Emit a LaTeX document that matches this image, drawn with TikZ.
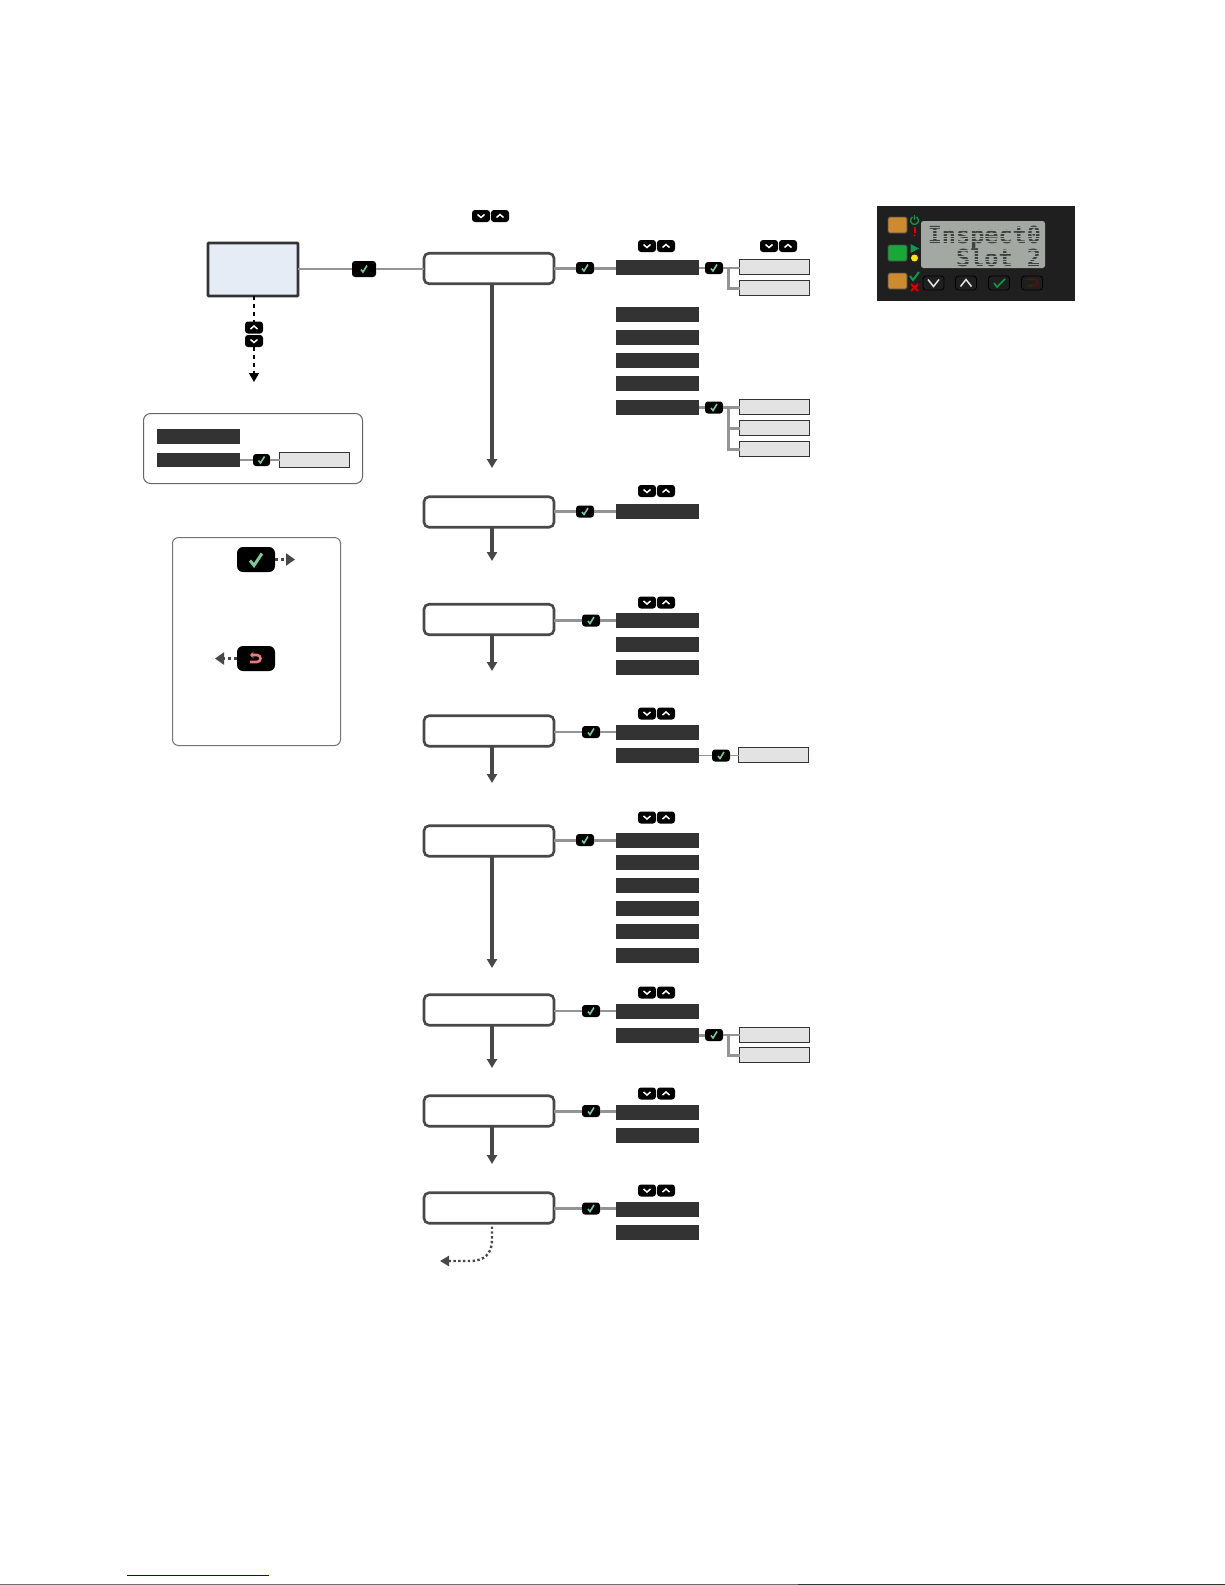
\documentclass[tikz,border=0pt]{standalone}
\usepackage{fontspec}
\setmonofont{DejaVu Sans Mono}
\usetikzlibrary{arrows.meta}
\definecolor{okgreen}{HTML}{7CC99A}
\definecolor{backred}{HTML}{E87C7C}
\definecolor{barblack}{HTML}{333333}
\definecolor{boxline}{HTML}{484848}
\definecolor{homeblue}{HTML}{E6ECF6}
\definecolor{lcdgray}{HTML}{A3A8A3}
\definecolor{lcdtext}{HTML}{3E423E}
\definecolor{panelgreen}{HTML}{0E9A4A}
\definecolor{ledorange}{HTML}{CE8A2E}
\definecolor{ledgreen}{HTML}{18A838}
\definecolor{footline}{HTML}{7A6A70}
\begin{document}
\begin{tikzpicture}[x=1pt,y=-1pt,>={Triangle[length=9pt,width=10pt]},
  badge/.style={fill=black,rounded corners=3pt,inner sep=0,outer sep=0,minimum width=18pt,minimum height=12pt},
  okbadge/.style={badge,path picture={\draw[sharp corners,shift={(path picture bounding box.center)},okgreen,line width=1.6pt] (-3,0.5) -- (-1,3) -- (3,-3.5);}},
  downbadge/.style={badge,path picture={\draw[sharp corners,shift={(path picture bounding box.center)},white,line width=1.5pt] (-3.5,-1.5) -- (0,1.5) -- (3.5,-1.5);}},
  upbadge/.style={badge,path picture={\draw[sharp corners,shift={(path picture bounding box.center)},white,line width=1.5pt] (-3.5,1.5) -- (0,-1.5) -- (3.5,1.5);}},
  menubox/.style={draw=boxline,fill=white,line width=2.6pt,rounded corners=5pt,inner sep=0,outer sep=0,minimum width=130pt,minimum height=30.5pt},
  darkbar/.style={fill=barblack,inner sep=0,outer sep=0,minimum width=83pt,minimum height=15pt},
  valbox/.style={draw=barblack,fill=black!11,line width=0.8pt,inner sep=0,outer sep=0,minimum width=70pt,minimum height=15.2pt},
  panelbox/.style={draw=black!60,line width=1pt,rounded corners=7pt,inner sep=0,outer sep=0},
  thinline/.style={draw=black!42,line width=1.8pt},
  thickline/.style={draw=black!42,line width=3pt},
  flowarrow/.style={->,draw=boxline,line width=3.1pt},
  dashedarrow/.style={->,draw=black,line width=1.6pt,dash pattern=on 4pt off 4pt},
  keyarrow/.style={-{Triangle[length=9pt,width=12pt]},draw=boxline,line width=2.5pt,dash pattern=on 3pt off 3pt},
  lcdbutton/.style={draw=black,fill=black!88,line width=0.8pt,rounded corners=3pt,inner sep=0,outer sep=0,minimum width=21pt,minimum height=14pt},
  lcdline/.style={text=lcdtext,font=\ttfamily\bfseries\fontsize{23.5}{23.5}\selectfont,inner sep=0,outer sep=0,anchor=base east},
  ledbox/.style={draw=black!70,line width=0.8pt,rounded corners=1.5pt,inner sep=0,outer sep=0,minimum width=19pt,minimum height=16pt}]
\useasboundingbox (0,0) rectangle (1225,1585);
\fill[white] (0,0) rectangle (1225,1585);

% home screen and its list
\node[draw=barblack,fill=homeblue,line width=2.6pt,rounded corners=0.8pt,inner sep=0,outer sep=0,minimum width=90pt,minimum height=53pt] (home) at (253,269.5) {};
\node[upbadge] (homeup) at (254,327.5) {};
\node[downbadge] (homedown) at (254,341) {};
\coordinate (hometip) at (254,382);
\draw[dashedarrow,-] (homeup |- home.south) -- (homeup);
\draw[dashedarrow] (homedown) -- (hometip);
\node[panelbox,minimum width=219pt,minimum height=70pt] (list) at (253,448.5) {};
\node[darkbar] (lista) at (198.5,436.5) {};
\node[darkbar,minimum height=14pt] (listb) at (198.5,460) {};
\node[okbadge,minimum width=17pt] (listok) at (261.5,460) {};
\node[valbox] (listval) at (314.5,460) {};
\draw[thinline] (listb) -- (listok);
\draw[thinline] (listok) -- (listval);

% key legend
\node[panelbox,draw=black!55,rounded corners=6pt,minimum width=168pt,minimum height=208pt] (legend) at (256.5,641.5) {};
\node[badge,rounded corners=6pt,minimum width=38pt,minimum height=25pt,path picture={\draw[sharp corners,shift={(path picture bounding box.center)},okgreen,line width=3pt] (-6,1) -- (-2,6) -- (6,-6);}] (legendok) at (256,559.5) {};
\coordinate (legendnext) at (295,559.5);
\draw[keyarrow] (legendok) -- (legendnext);
\node[badge,rounded corners=6pt,minimum width=38pt,minimum height=25pt,path picture={\draw[sharp corners,shift={(path picture bounding box.center)},backred,line width=2.6pt] (-5,-3.5) -- (1,-3.5) arc (-90:90:3.5) -- (-6,3.5); \fill[shift={(path picture bounding box.center)},backred] (-6.5,-3.5) -- (-2,-7) -- (-2,0) -- cycle;}] (legendback) at (256,658.5) {};
\coordinate (legendprev) at (215,658.5);
\draw[keyarrow] (legendback) -- (legendprev);

% front panel
\node[fill=black!88,inner sep=0,outer sep=0,minimum width=198pt,minimum height=95pt] (front) at (976,253.5) {};
\node[fill=lcdgray,rounded corners=2.5pt,inner sep=0,outer sep=0,minimum width=124pt,minimum height=47pt] (lcd) at (983,244.5) {};
\node[lcdline] (lcdtop) at (1041,243) {Inspect0};
\node[lcdline] (lcdbot) at (1041,266) {Slot 2};
\draw[lcdgray,line width=0.6pt] (925,227.5) -- (1043,227.5) (925,230.3) -- (1043,230.3) (925,233.1) -- (1043,233.1) (925,235.9) -- (1043,235.9) (925,238.7) -- (1043,238.7) (925,241.5) -- (1043,241.5)
  (925,250.5) -- (1043,250.5) (925,253.3) -- (1043,253.3) (925,256.1) -- (1043,256.1) (925,258.9) -- (1043,258.9) (925,261.7) -- (1043,261.7) (925,264.5) -- (1043,264.5);
\node[ledbox,fill=ledorange] (ledone) at (897.5,225) {};
\node[ledbox,fill=ledgreen] (ledtwo) at (897.5,253) {};
\node[ledbox,fill=ledorange] (ledthree) at (897.5,281) {};
\draw[panelgreen,line width=1.3pt] (916.5,217) arc (-60:240:4);
\draw[panelgreen,line width=1.3pt] (914.5,215) -- (914.5,220);
\draw[red!90!black,line width=2pt] (914.5,227) -- (914.5,233);
\fill[red!90!black] (914.5,235.5) circle (1.2);
\fill[panelgreen] (910.5,244) -- (919,248.5) -- (910.5,253) -- cycle;
\fill[yellow!90!orange] (914.5,258) circle (3.5);
\draw[panelgreen,line width=2pt] (910,276) -- (913,280) -- (919,272);
\draw[red!85!black,line width=2pt] (911,284) -- (918,291) (918,284) -- (911,291);
\node[lcdbutton] (btndown) at (933.5,283) {};
\node[lcdbutton] (btnup) at (966,283) {};
\node[lcdbutton] (btnok) at (999,283) {};
\node[lcdbutton] (btnback) at (1032,283) {};
\draw[white!90!black,line width=1.5pt] (928,279.5) -- (933.5,286.5) -- (939,279.5);
\draw[white!90!black,line width=1.5pt] (960.5,286.5) -- (966,279.5) -- (971.5,286.5);
\draw[panelgreen,line width=1.6pt] (994,283) -- (997,287) -- (1005,279);
\draw[red!50!black,line width=1.3pt] (1025,279.5) -- (1035,279.5) arc (-90:90:3) -- (1028,285.5);

% 1st menu
\node[menubox] (menua) at (489,268.5) {};
\node[downbadge] (menuadown) at (481,216) {};
\node[upbadge] (menuaup) at (500,216) {};
\node[okbadge,minimum width=24pt,minimum height=16pt] (homeok) at (364,269) {};
\draw[thinline] (home.east |- homeok) -- (homeok);
\draw[thinline] (homeok) -- (homeok -| menua.west);
\node[okbadge] (menuaok) at (585,268) {};
\node[darkbar] (aone) at (657.5,267.5) {};
\node[darkbar] (atwo) at (657.5,314.5) {};
\node[darkbar] (athree) at (657.5,337.5) {};
\node[darkbar] (afour) at (657.5,360.5) {};
\node[darkbar] (afive) at (657.5,383.5) {};
\node[darkbar] (asix) at (657.5,407.5) {};
\draw[thickline] (menuaok -| menua.east) -- (menuaok);
\draw[thickline] (menuaok) -- (menuaok -| aone.west);
\node[downbadge] (aonedown) at (647,246) {};
\node[upbadge] (aoneup) at (666,246) {};
\node[okbadge] (aoneok) at (714,268) {};
\node[valbox] (aoneval) at (774.5,267) {};
\node[valbox] (aoneout) at (774.5,288) {};
\node[downbadge] (valdown) at (769,246) {};
\node[upbadge] (valup) at (788,246) {};
\coordinate (aonejoin) at (728,268);
\draw[thinline] (aoneok -| aone.east) -- (aoneok);
\draw[thinline] (aoneok) -- (aoneval.west |- aonejoin);
\draw[thickline] (aonejoin) |- (aoneout);
\node[okbadge] (asixok) at (714,407.5) {};
\node[valbox] (asixa) at (774.5,407) {};
\node[valbox] (asixb) at (774.5,428) {};
\node[valbox] (asixc) at (774.5,449) {};
\coordinate (asixjoin) at (728,407.5);
\draw[thickline] (asix) -- (asixok);
\draw[thickline] (asixok) -- (asixa.west |- asixjoin);
\draw[thickline] (asixjoin) |- (asixb);
\draw[thickline] (asixjoin) |- (asixc);
\coordinate (atip) at (492,468);
\draw[flowarrow] (atip |- menua.south) -- (atip);

% 2nd menu
\node[menubox] (menub) at (489,512) {};
\node[okbadge] (menubok) at (585,511.5) {};
\node[darkbar] (bone) at (657.5,511.5) {};
\node[downbadge] (bonedown) at (647,491) {};
\node[upbadge] (boneup) at (666,491) {};
\draw[thickline] (menubok -| menub.east) -- (menubok);
\draw[thickline] (menubok) -- (bone);
\coordinate (btip) at (492,561);
\draw[flowarrow] (btip |- menub.south) -- (btip);

% 3rd menu
\node[menubox] (menuc) at (489,619.5) {};
\node[okbadge] (menucok) at (591,620.5) {};
\node[darkbar] (cone) at (657.5,620.5) {};
\node[darkbar] (ctwo) at (657.5,644.5) {};
\node[darkbar] (cthree) at (657.5,667.5) {};
\node[downbadge] (conedown) at (647,602.5) {};
\node[upbadge] (coneup) at (666,602.5) {};
\draw[thickline] (menucok -| menuc.east) -- (menucok);
\draw[thickline] (menucok) -- (cone);
\coordinate (ctip) at (492,671);
\draw[flowarrow] (ctip |- menuc.south) -- (ctip);

% 4th menu
\node[menubox] (menud) at (489,731) {};
\node[okbadge] (menudok) at (591,732) {};
\node[darkbar] (done) at (657.5,732.5) {};
\node[darkbar] (dtwo) at (657.5,755.5) {};
\node[downbadge] (donedown) at (647,713.5) {};
\node[upbadge] (doneup) at (666,713.5) {};
\node[okbadge] (dtwook) at (721,755.5) {};
\node[valbox] (dtwoval) at (773.5,755) {};
\draw[thinline] (menudok -| menud.east) -- (menudok);
\draw[thinline] (menudok) -- (menudok -| done.west);
\draw[thinline] (dtwo) -- (dtwook);
\draw[thinline] (dtwook) -- (dtwook -| dtwoval.west);
\coordinate (dtip) at (492,783);
\draw[flowarrow] (dtip |- menud.south) -- (dtip);

% 5th menu
\node[menubox] (menue) at (489,841) {};
\node[okbadge] (menueok) at (585,840) {};
\node[darkbar] (eone) at (657.5,840) {};
\node[darkbar] (etwo) at (657.5,862.5) {};
\node[darkbar] (ethree) at (657.5,885.5) {};
\node[darkbar] (efour) at (657.5,908) {};
\node[darkbar] (efive) at (657.5,931) {};
\node[darkbar] (esix) at (657.5,955.5) {};
\node[downbadge] (eonedown) at (647,817.5) {};
\node[upbadge] (eoneup) at (666,817.5) {};
\draw[thickline] (menueok -| menue.east) -- (menueok);
\draw[thickline] (menueok) -- (eone);
\coordinate (etip) at (492,968);
\draw[flowarrow] (etip |- menue.south) -- (etip);

% 6th menu
\node[menubox] (menuf) at (489,1010) {};
\node[okbadge] (menufok) at (591,1011) {};
\node[darkbar] (fone) at (657.5,1011.5) {};
\node[darkbar] (ftwo) at (657.5,1035.5) {};
\node[downbadge] (fonedown) at (647,992.5) {};
\node[upbadge] (foneup) at (666,992.5) {};
\node[okbadge] (ftwook) at (714,1035) {};
\node[valbox] (ftwoa) at (774.5,1035) {};
\node[valbox] (ftwob) at (774.5,1055) {};
\coordinate (ftwojoin) at (728,1035);
\draw[thinline] (menufok -| menuf.east) -- (menufok);
\draw[thinline] (menufok) -- (menufok -| fone.west);
\draw[thickline] (ftwook -| ftwo.east) -- (ftwook);
\draw[thinline] (ftwook) -- (ftwoa);
\draw[thickline] (ftwojoin) |- (ftwob);
\coordinate (ftip) at (492,1068);
\draw[flowarrow] (ftip |- menuf.south) -- (ftip);

% 7th menu
\node[menubox] (menug) at (489,1111) {};
\node[okbadge] (menugok) at (591,1111) {};
\node[darkbar] (gone) at (657.5,1112) {};
\node[darkbar] (gtwo) at (657.5,1135) {};
\node[downbadge] (gonedown) at (647,1093.5) {};
\node[upbadge] (goneup) at (666,1093.5) {};
\draw[thickline] (menugok -| menug.east) -- (menugok);
\draw[thickline] (menugok) -- (menugok -| gone.west);
\coordinate (gtip) at (492,1164);
\draw[flowarrow] (gtip |- menug.south) -- (gtip);

% 8th menu
\node[menubox] (menuh) at (489,1208) {};
\node[okbadge] (menuhok) at (591,1208.5) {};
\node[darkbar] (hone) at (657.5,1209.5) {};
\node[darkbar] (htwo) at (657.5,1232.5) {};
\node[downbadge] (honedown) at (647,1190.5) {};
\node[upbadge] (honeup) at (666,1190.5) {};
\draw[thickline] (menuhok -| menuh.east) -- (menuhok);
\draw[thickline] (menuhok) -- (menuhok -| hone.west);
\coordinate (hstart) at (492,1226.5);
\coordinate (htip) at (440,1261);
\draw[->,draw=boxline,line width=2.4pt,dash pattern=on 2.4pt off 2.4pt] (hstart) -- (492,1240) .. controls (492,1254) and (484,1261) .. (470,1261) -- (htip);

% page foot
\draw[blue!80!black,line width=1pt] (127,1575) -- (269,1575);
\draw[footline,line width=1pt] (0,1584.5) -- (798,1584.5);
\draw[barblack,line width=1pt] (798,1584.5) -- (1225,1584.5);
\end{tikzpicture}
\end{document}
